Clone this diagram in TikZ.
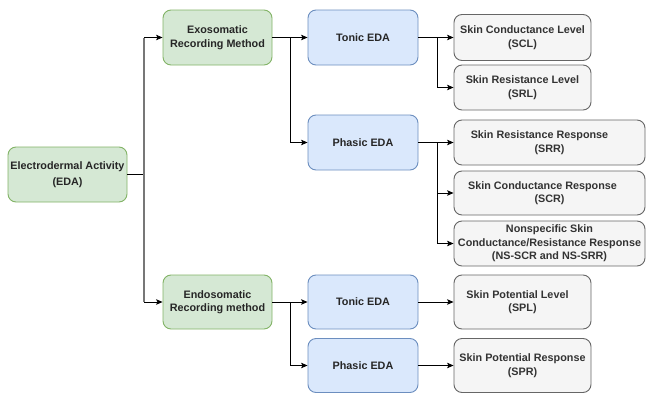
\documentclass[tikz,border=0pt]{standalone}
\usepackage{fontspec}
\setmainfont{Liberation Sans}
\usetikzlibrary{arrows.meta}
\definecolor{gfill}{HTML}{D5E8D4}
\definecolor{gline}{HTML}{82B366}
\definecolor{bfill}{HTML}{DAE8FC}
\definecolor{bline}{HTML}{6C8EBF}
\definecolor{yfill}{HTML}{F5F5F5}
\definecolor{yline}{HTML}{666666}
\definecolor{ytext}{HTML}{333333}
\definecolor{trunk}{HTML}{777777}
\begin{document}
\begin{tikzpicture}[x=1pt,y=-1pt,
  base/.style={rounded corners=8pt, line width=0.9pt, align=center, inner sep=0pt,
    font=\fontsize{10.8}{13.5}\selectfont\bfseries},
  gbox/.style={base, fill=gfill, draw=gline, text=black!85},
  bbox/.style={base, fill=bfill, draw=bline, text=black!85},
  ybox/.style={base, fill=yfill, draw=yline, text=ytext},
  arr/.style={draw=black, line width=0.8pt, -{Stealth[length=6.5pt,width=5.5pt,inset=1.5pt]}},
  ln/.style={draw=black, line width=0.8pt}]
\useasboundingbox (0,0) rectangle (646,394);
% level 1
\node[gbox, minimum width=119pt, minimum height=55pt, font=\fontsize{10.8}{15.5}\selectfont\bfseries] (eda) at (67.5,174.5) {Electrodermal Activity\\(EDA)};
% level 2
\node[gbox, minimum width=109pt, minimum height=55pt] (exo) at (217.5,37.5) {Exosomatic\\Recording Method};
\node[gbox, minimum width=109pt, minimum height=54pt] (endo) at (217.5,302) {Endosomatic\\Recording method};
% level 3
\node[bbox, minimum width=110pt, minimum height=55pt] (t1) at (363,37.5) {Tonic EDA};
\node[bbox, minimum width=110pt, minimum height=55pt] (p1) at (363,142.5) {Phasic EDA};
\node[bbox, minimum width=110pt, minimum height=54pt] (t2) at (363,302) {Tonic EDA};
\node[bbox, minimum width=110pt, minimum height=54pt] (p2) at (363,365.5) {Phasic EDA};
% level 4
\node[ybox, minimum width=137pt, minimum height=46pt] (scl) at (522.5,37.5) {Skin Conductance Level\\(SCL)};
\node[ybox, minimum width=137pt, minimum height=45pt] (srl) at (522.5,87.5) {Skin Resistance Level\\(SRL)};
\node[ybox, minimum width=191pt, minimum height=45pt] (srr) at (549.5,142.5) {Skin Resistance Response\hspace*{20pt}\\(SRR)};
\node[ybox, minimum width=191pt, minimum height=44pt] (scr) at (549.5,193) {Skin Conductance Response\hspace*{14pt}\\(SCR)};
\node[ybox, minimum width=191pt, minimum height=45pt] (ns) at (549.5,243.5) {Nonspecific Skin\\Conductance/Resistance Response\\(NS-SCR and NS-SRR)};
\node[ybox, minimum width=137pt, minimum height=54pt] (spl) at (522.5,302) {Skin Potential Level\hspace*{10pt}\\(SPL)};
\node[ybox, minimum width=137pt, minimum height=54pt] (spr) at (522.5,365.5) {Skin Potential Response\\(SPR)};
% junctions
\coordinate (j0) at (144,174.5);
\coordinate (j1) at (290,37.5);
\coordinate (j2) at (290,302);
\coordinate (j3) at (437,37.5);
\coordinate (j4) at (437,142.5);
% connectors
\draw[ln] (eda.east) -- (j0);
\draw[draw=trunk, line width=1.5pt] (j0 |- exo.west) -- (j0 |- endo.west);
\draw[arr] (j0 |- exo.west) -- (exo.west);
\draw[arr] (j0 |- endo.west) -- (endo.west);
\draw[arr] (exo.east) -- (t1.west);
\draw[arr] (j1) |- (p1.west);
\draw[arr] (endo.east) -- (t2.west);
\draw[arr] (j2) |- (p2.west);
\draw[arr] (t1.east) -- (scl.west);
\draw[arr] (j3) |- (srl.west);
\draw[arr] (p1.east) -- (srr.west);
\draw[arr] (j4) |- (scr.west);
\draw[arr] (j4) |- (ns.west);
\draw[arr] (t2.east) -- (spl.west);
\draw[arr] (p2.east) -- (spr.west);
\end{tikzpicture}
\end{document}
